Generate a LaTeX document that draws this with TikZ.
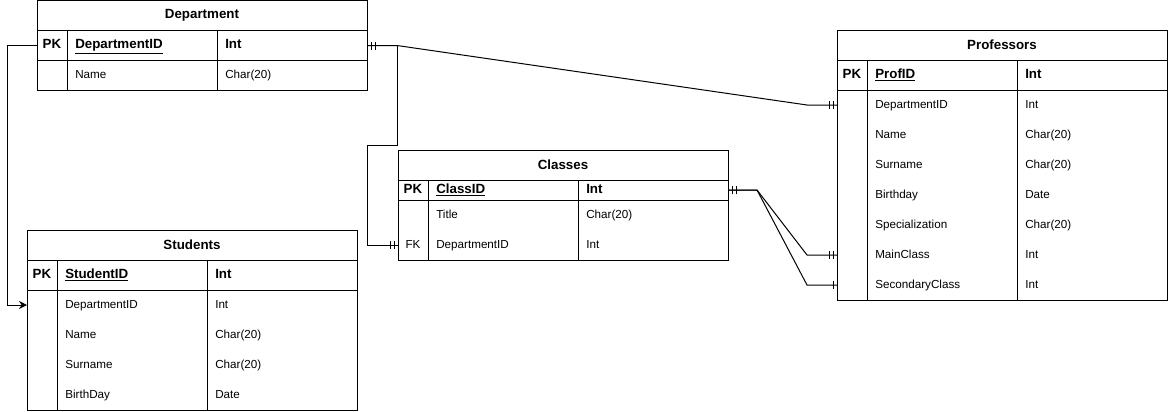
\documentclass[tikz,border=0pt]{standalone}
\usepackage{fontspec}
\setmainfont{Liberation Sans}
\usepackage{tikz}
\usetikzlibrary{arrows.meta, positioning, calc, decorations.markings}
\tikzset{
	% table styles
	tblhead/.style ={rectangle, draw=black, line width=0.75pt, minimum width=247.5pt, minimum height=22.5pt, inner sep=0pt, outer sep=0pt, font=\bfseries, anchor=north west},
	keyrow/.style  ={rectangle, draw=black, line width=0.75pt, minimum width=247.5pt, minimum height=22.5pt, inner sep=0pt, outer sep=0pt},
	fieldrow/.style={rectangle, minimum width=247.5pt, minimum height=22.5pt, inner sep=0pt, outer sep=0pt},
	tblline/.style ={draw=black, line width=0.75pt},
	keytag/.style  ={inner sep=0pt, text height=6.5pt, text depth=1.9pt},
	fieldtxt/.style={anchor=west, inner sep=0pt, text height=6.5pt, text depth=1.9pt},
	keytxt/.style  ={fieldtxt, font=\bfseries},
	% relation styles
	rel/.style     ={draw=black, line width=0.75pt},
	refarrow/.style={rel, -{Stealth[length=6pt, width=6pt, inset=2pt]}},
	mandstart/.style={postaction={decorate, decoration={markings,
		mark=at position 3pt with {\draw[line width=0.75pt] (0,-3pt) -- (0,3pt);},
		mark=at position 6pt with {\draw[line width=0.75pt] (0,-3pt) -- (0,3pt);}}}},
	mandend/.style ={postaction={decorate, decoration={markings,
		mark=at position -3pt with {\draw[line width=0.75pt] (0,-3pt) -- (0,3pt);},
		mark=at position -6pt with {\draw[line width=0.75pt] (0,-3pt) -- (0,3pt);}}}},
	oneend/.style  ={postaction={decorate, decoration={markings,
		mark=at position -3pt with {\draw[line width=0.75pt] (0,-3pt) -- (0,3pt);}}}},
}

\begin{document}
\begin{tikzpicture}[x=0.75pt, y=-0.75pt, font=\fontsize{8.75}{11}\selectfont]
	\useasboundingbox (0,0) rectangle (1168,411);

	% Department table
	\node[tblhead] (dept) at (37,0.5) {Department};
	\node[keyrow, below=0pt of dept] (deptPK) {};
	\node[keytag, font=\bfseries] (deptPKtag) at ([xshift=11.25pt]deptPK.west) {PK};
	\node[keytxt] (deptPKname) at ([xshift=28.5pt]deptPK.west) {\underline{DepartmentID}};
	\node[keytxt] (deptPKtype) at ([xshift=141pt]deptPK.west) {Int};
	\node[fieldrow, below=0pt of deptPK] (deptName) {};
	\node[fieldtxt] (deptNamename) at ([xshift=28.5pt]deptName.west) {Name};
	\node[fieldtxt] (deptNametype) at ([xshift=141pt]deptName.west) {Char(20)};
	\draw[tblline] (dept.north west) rectangle (deptName.south east);
	\draw[tblline] ([xshift=22.5pt]deptPK.north west) -- ([xshift=22.5pt]deptName.south west);
	\draw[tblline] ([xshift=135pt]deptPK.north west) -- ([xshift=135pt]deptName.south west);

	% Classes table
	\node[tblhead] (class) at (398,150) {Classes};
	\node[keyrow, minimum height=15pt, below=0pt of class] (classPK) {};
	\node[keytag, font=\bfseries] (classPKtag) at ([xshift=11.25pt]classPK.west) {PK};
	\node[keytxt] (classPKname) at ([xshift=28.5pt]classPK.west) {\underline{ClassID}};
	\node[keytxt] (classPKtype) at ([xshift=141pt]classPK.west) {Int};
	\node[fieldrow, below=0pt of classPK] (classTitle) {};
	\node[fieldtxt] (classTitlename) at ([xshift=28.5pt]classTitle.west) {Title};
	\node[fieldtxt] (classTitletype) at ([xshift=141pt]classTitle.west) {Char(20)};
	\node[fieldrow, below=0pt of classTitle] (classFK) {};
	\node[keytag] (classFKtag) at ([xshift=11.25pt]classFK.west) {FK};
	\node[fieldtxt] (classFKname) at ([xshift=28.5pt]classFK.west) {DepartmentID};
	\node[fieldtxt] (classFKtype) at ([xshift=141pt]classFK.west) {Int};
	\draw[tblline] (class.north west) rectangle (classFK.south east);
	\draw[tblline] ([xshift=22.5pt]classPK.north west) -- ([xshift=22.5pt]classFK.south west);
	\draw[tblline] ([xshift=135pt]classPK.north west) -- ([xshift=135pt]classFK.south west);

	% Students table
	\node[tblhead] (stud) at (27,230) {Students};
	\node[keyrow, below=0pt of stud] (stud0) {};
	\node[keytag, font=\bfseries] (stud0tag) at ([xshift=11.25pt]stud0.west) {PK};
	\node[keytxt] (stud0name) at ([xshift=28.5pt]stud0.west) {\underline{StudentID}};
	\node[keytxt] (stud0type) at ([xshift=141pt]stud0.west) {Int};
	\foreach \f/\t [count=\i, remember=\i as \j (initially 0)] in
		{DepartmentID/Int, Name/Char(20), Surname/Char(20), BirthDay/Date} {
		\node[fieldrow, below=0pt of stud\j] (stud\i) {};
		\node[fieldtxt] (stud\i name) at ([xshift=28.5pt]stud\i.west) {\f};
		\node[fieldtxt] (stud\i type) at ([xshift=141pt]stud\i.west) {\t};
	}
	\draw[tblline] (stud.north west) rectangle (stud4.south east);
	\draw[tblline] ([xshift=22.5pt]stud0.north west) -- ([xshift=22.5pt]stud4.south west);
	\draw[tblline] ([xshift=135pt]stud0.north west) -- ([xshift=135pt]stud4.south west);

	% Professors table
	\node[tblhead] (prof) at (837,30) {Professors};
	\node[keyrow, below=0pt of prof] (prof0) {};
	\node[keytag, font=\bfseries] (prof0tag) at ([xshift=11.25pt]prof0.west) {PK};
	\node[keytxt] (prof0name) at ([xshift=28.5pt]prof0.west) {\underline{ProfID}};
	\node[keytxt] (prof0type) at ([xshift=141pt]prof0.west) {Int};
	\foreach \f/\t [count=\i, remember=\i as \j (initially 0)] in
		{DepartmentID/Int, Name/Char(20), Surname/Char(20), Birthday/Date,
		 Specialization/Char(20), MainClass/Int, SecondaryClass/Int} {
		\node[fieldrow, below=0pt of prof\j] (prof\i) {};
		\node[fieldtxt] (prof\i name) at ([xshift=28.5pt]prof\i.west) {\f};
		\node[fieldtxt] (prof\i type) at ([xshift=141pt]prof\i.west) {\t};
	}
	\draw[tblline] (prof.north west) rectangle (prof7.south east);
	\draw[tblline] ([xshift=22.5pt]prof0.north west) -- ([xshift=22.5pt]prof7.south west);
	\draw[tblline] ([xshift=135pt]prof0.north west) -- ([xshift=135pt]prof7.south west);

	% relations
	\draw[rel, mandstart, mandend] (deptPK.east) -- ++(30,0) -- ([xshift=-22.5pt]prof1.west) -- (prof1.west);
	\draw[rel, mandend] (deptPK.east) -- ++(30,0) -- ++(0,100) -- ++(-30,0) |- (classFK.west);
	\draw[refarrow] (deptPK.west) -- ++(-30,0) |- (stud1.west);
	\draw[rel, mandstart, mandend] (classPK.east) -- ++(29,0) -- ([xshift=-22.5pt]prof6.west) -- (prof6.west);
	\draw[rel, mandstart, oneend] (classPK.east) -- ++(29,0) -- ([xshift=-22.5pt]prof7.west) -- (prof7.west);
\end{tikzpicture}
\end{document}
